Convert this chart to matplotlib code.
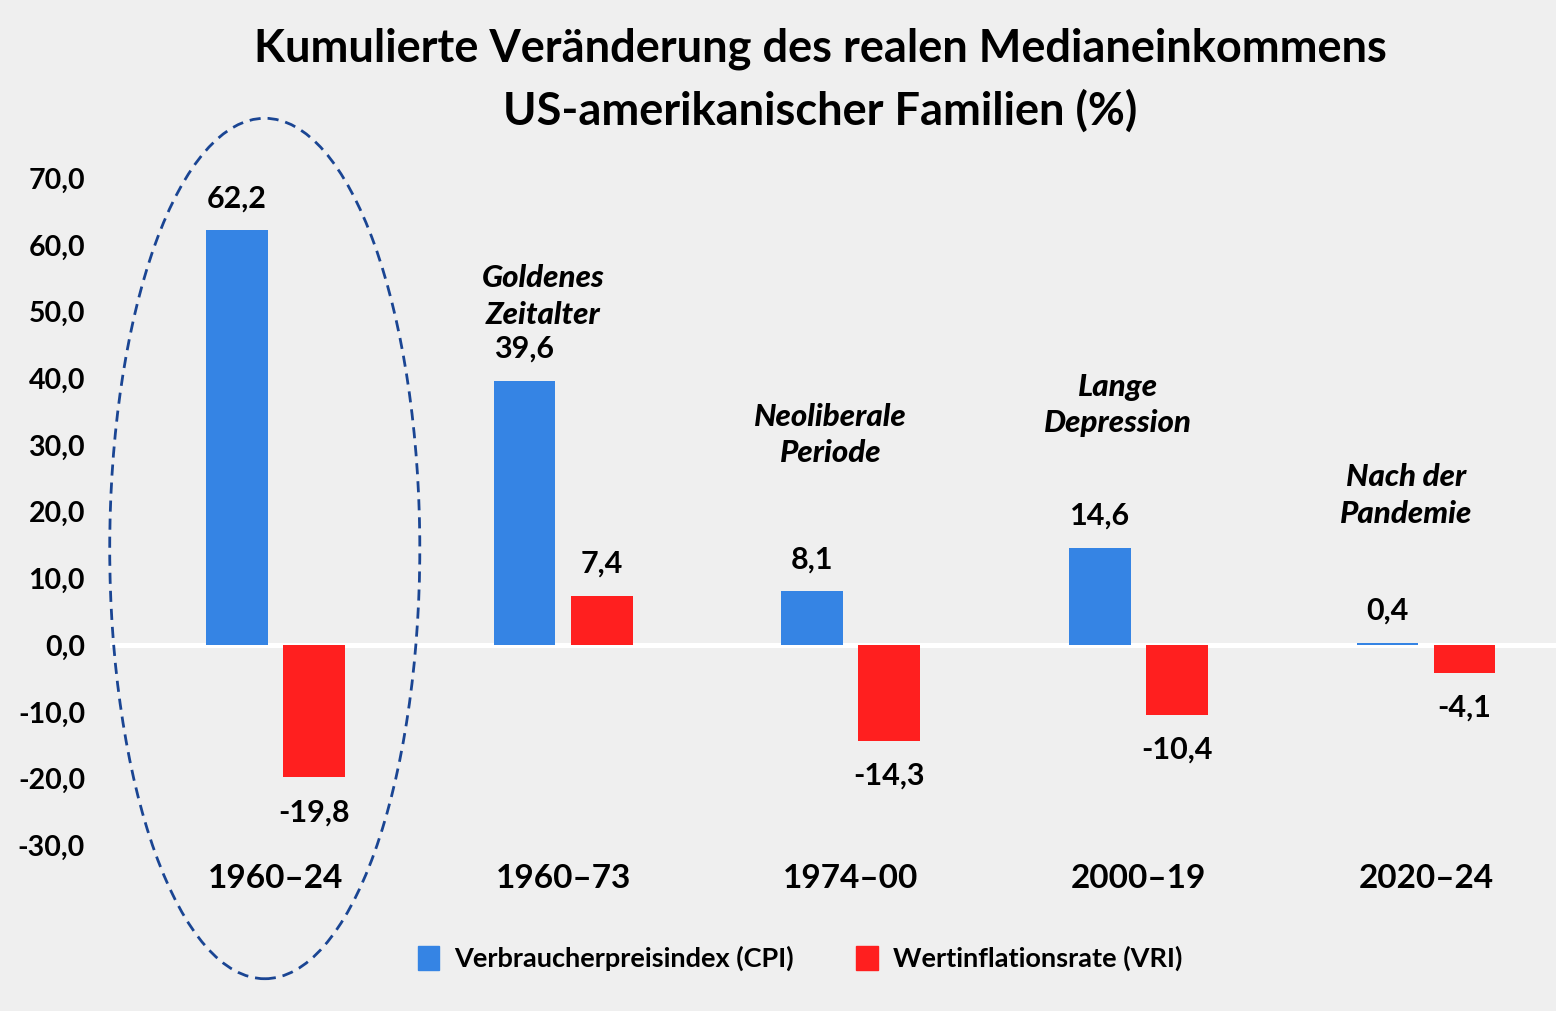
import matplotlib
matplotlib.use("Agg")
import matplotlib.pyplot as plt
from matplotlib.patches import Ellipse, Patch
import numpy as np

plt.rcParams["font.family"] = ["Lato", "DejaVu Sans"]
plt.rcParams["font.weight"] = "bold"

periods = ["1960–24", "1960–73", "1974–00", "2000–19", "2020–24"]
cpi = [62.2, 39.6, 8.1, 14.6, 0.4]
vri = [-19.8, 7.4, -14.3, -10.4, -4.1]
notes = ["", "Goldenes\nZeitalter", "Neoliberale\nPeriode", "Lange\nDepression", "Nach der\nPandemie"]
note_y = [0, 52.3, 31.5, 36.0, 22.5]
yticks = [-30, -20, -10, 0, 10, 20, 30, 40, 50, 60, 70]

BLUE = "#3584e4"
RED = "#ff1f1f"
BG = "#efefef"


def fmt(v):
    return f"{v:.1f}".replace(".", ",")


fig = plt.figure(figsize=(15.56, 10.11), dpi=100, facecolor=BG)
ax = fig.add_axes([0.0707, 0.0979, 0.9293, 0.7587])
ax.set_facecolor(BG)

x = np.arange(len(periods))
w = 0.215
off = 0.134

ax.axhline(0, color="white", lw=3.6, zorder=1)
ax.bar(x - off, cpi, w, color=BLUE, zorder=2)
ax.bar(x + off, vri, w, color=RED, zorder=2)

for i in range(len(periods)):
    for xv, v in ((x[i] - off, cpi[i]), (x[i] + off, vri[i])):
        ax.annotate(fmt(v), (xv, v), xytext=(0, 13 if v >= 0 else -15),
                    textcoords="offset points", ha="center",
                    va="bottom" if v >= 0 else "top",
                    fontsize=22, fontweight="bold")
    ax.text(x[i], -35, periods[i], ha="center", va="center",
            fontsize=24, fontweight="bold")
    if notes[i]:
        ax.text(x[i] - 0.07, note_y[i], notes[i], ha="center", va="center",
                fontsize=22.5, fontweight="black", style="italic", linespacing=1.38)

ax.add_patch(Ellipse((-0.037, 14.5), 1.078, 129, fill=False, ec="#1a4593",
                     lw=2, ls=(0, (4, 2.5)), clip_on=False, zorder=4))

ax.set_xlim(-0.575, 4.452)
ax.set_ylim(-40, 75)
ax.set_xticks([])
ax.set_yticks(yticks)
ax.set_yticklabels([fmt(t) for t in yticks], fontsize=20.5, fontweight="bold")
ax.tick_params(axis="y", length=0, pad=18)
for s in ax.spines.values():
    s.set_visible(False)

fig.text(0.527, 0.952, "Kumulierte Veränderung des realen Medianeinkommens",
         ha="center", va="center", fontsize=32.5, fontweight="bold")
fig.text(0.527, 0.890, "US-amerikanischer Familien (%)",
         ha="center", va="center", fontsize=32.5, fontweight="bold")

handles = [Patch(color=BLUE, label="Verbraucherpreisindex (CPI)"),
           Patch(color=RED, label="Wertinflationsrate (VRI)")]
fig.legend(handles=handles, loc="center", bbox_to_anchor=(0.514, 0.052), ncol=2,
           frameon=False, fontsize=19.5, handlelength=0.8, handleheight=1.0,
           handletextpad=0.55, columnspacing=2.3)

fig.savefig("out.png", dpi=100, facecolor=BG)
